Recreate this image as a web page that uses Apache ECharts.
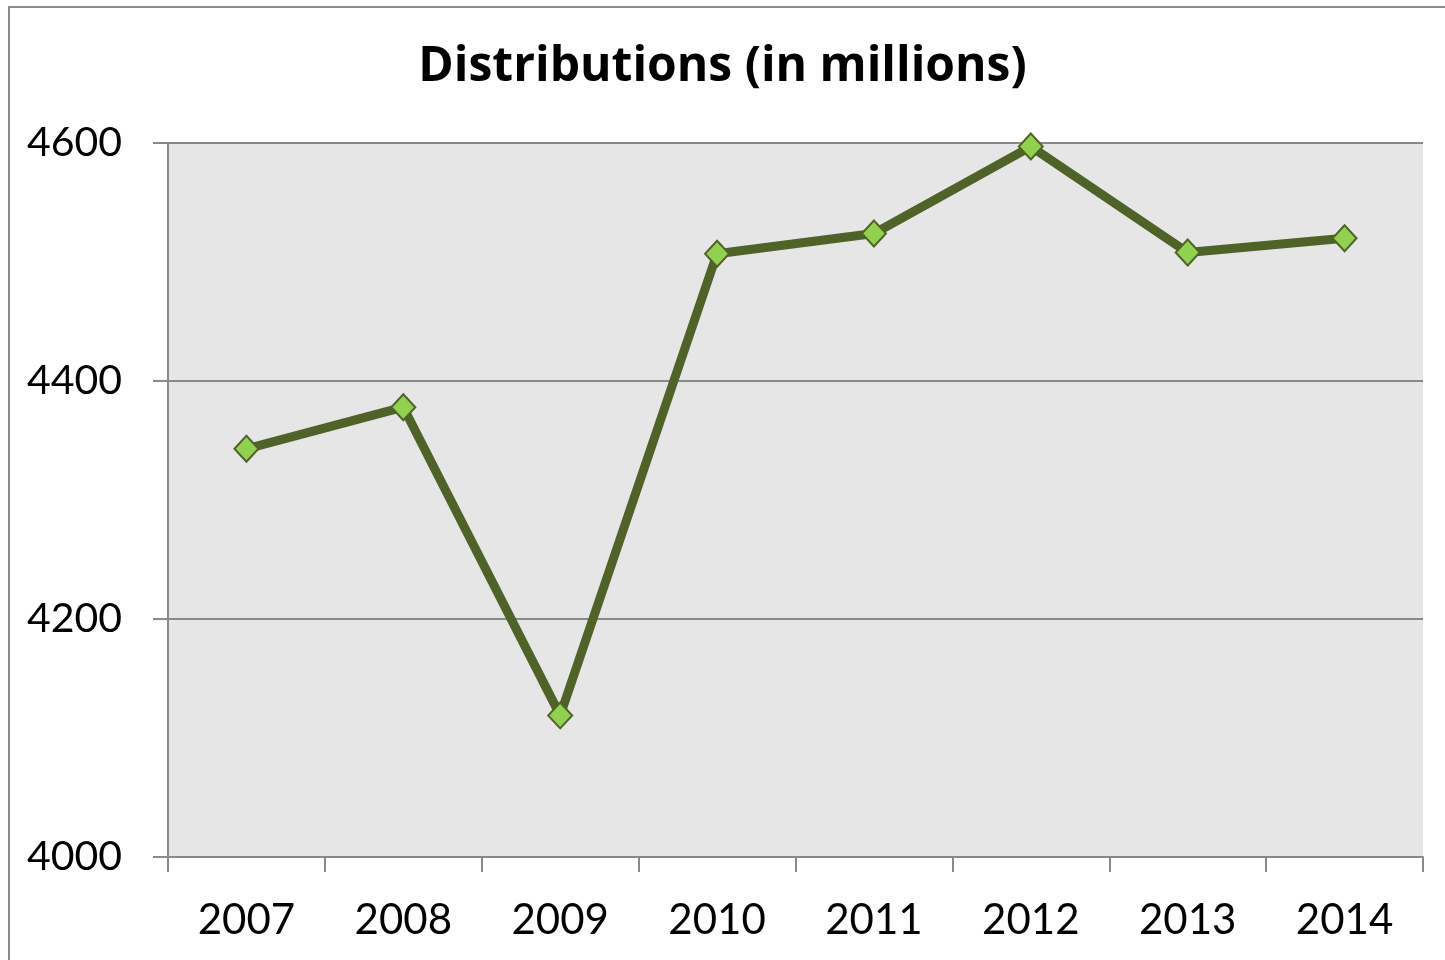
<!DOCTYPE html>
<html>
<head>
<meta charset="utf-8">
<style>
  html, body { margin: 0; padding: 0; background: #ffffff; }
  #chart { width: 1445px; height: 960px; }
</style>
<script src="https://cdn.jsdelivr.net/npm/echarts@6/dist/echarts.min.js"></script>
</head>
<body>
<div id="chart"></div>
<script>
// Annual distributions, in millions
const years = ['2007', '2008', '2009', '2010', '2011', '2012', '2013', '2014'];
const distributions = [4343, 4378, 4119, 4507, 4524, 4597, 4508, 4520];
const yTicks = { min: 4000, max: 4600, step: 200 };
const titleText = 'Distributions (in millions)';

const FONT = 'Lato, "Open Sans", sans-serif';
const TITLE_FONT = '"Open Sans", Lato, sans-serif';
const AXIS_GRAY = '#898989';

const chart = echarts.init(document.getElementById('chart'), null, { renderer: 'canvas' });

chart.setOption({
  animation: false,
  backgroundColor: '#ffffff',
  title: {
    text: titleText,
    left: 'center',
    top: 38,
    textStyle: { fontFamily: TITLE_FONT, fontWeight: 'bold', fontSize: 48, color: '#000000' }
  },
  graphic: [{
    type: 'rect',
    shape: { x: 9, y: 7, width: 1480, height: 1000 },
    style: { fill: 'none', stroke: '#8c8c8c', lineWidth: 2 },
    silent: true,
    z: -1
  }],
  grid: {
    left: 168, right: 22, top: 143, bottom: 103,
    show: true,
    backgroundColor: '#e6e6e6',
    borderWidth: 0
  },
  xAxis: {
    type: 'category',
    data: years,
    boundaryGap: true,
    axisLine: { show: true, lineStyle: { color: AXIS_GRAY, width: 2 } },
    axisTick: { show: true, length: 15, inside: false, alignWithLabel: false, lineStyle: { color: AXIS_GRAY, width: 2 } },
    axisLabel: { fontFamily: FONT, fontSize: 42, color: '#000000', margin: 42 },
    splitLine: { show: false }
  },
  yAxis: {
    type: 'value',
    min: yTicks.min,
    max: yTicks.max,
    interval: yTicks.step,
    axisLine: { show: true, lineStyle: { color: AXIS_GRAY, width: 2 } },
    axisTick: { show: true, length: 15, inside: false, lineStyle: { color: AXIS_GRAY, width: 2 } },
    axisLabel: { fontFamily: FONT, fontSize: 41, color: '#000000', margin: 46, formatter: v => String(v) },
    splitLine: { show: true, lineStyle: { color: AXIS_GRAY, width: 2 } }
  },
  series: [{
    type: 'line',
    data: distributions,
    symbol: 'diamond',
    symbolSize: [24, 26],
    lineStyle: { color: '#4f6228', width: 9 },
    itemStyle: { color: '#92d050', borderColor: '#4f6228', borderWidth: 2 },
    z: 3
  }]
});
</script>
</body>
</html>
